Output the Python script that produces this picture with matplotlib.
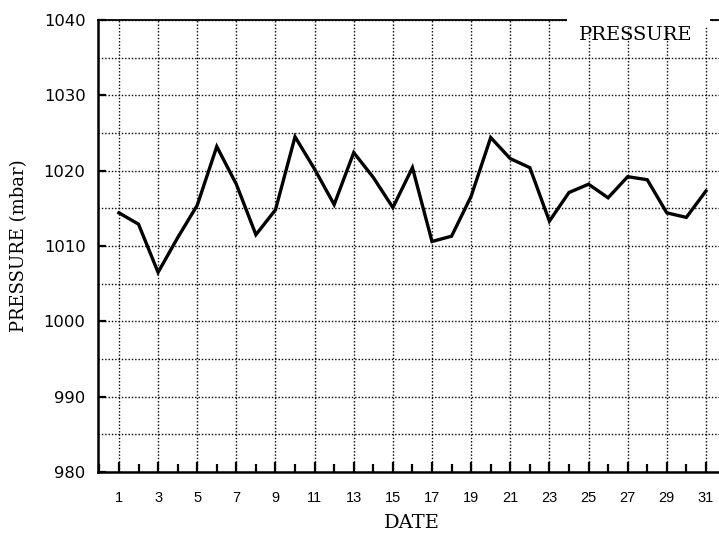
import matplotlib
matplotlib.use("Agg")
import matplotlib.pyplot as plt
from matplotlib.patches import Rectangle
from matplotlib.ticker import MultipleLocator

# daily pressure readings (mbar)
days = list(range(1, 32))
pressure = [1014.4, 1012.9, 1006.5, 1011.1, 1015.4, 1023.2, 1018.2, 1011.5,
            1014.8, 1024.5, 1020.2, 1015.5, 1022.4, 1019.1, 1015.1, 1020.4,
            1010.6, 1011.3, 1016.6, 1024.4, 1021.6, 1020.4, 1013.3, 1017.1,
            1018.2, 1016.4, 1019.2, 1018.8, 1014.4, 1013.8, 1017.3]
x_ticks = list(range(1, 32, 2))
y_ticks = list(range(980, 1041, 10))

serif = "DejaVu Serif"

W, H = 719, 535
fig = plt.figure(figsize=(W / 100, H / 100), dpi=100)
ax = fig.add_axes([98 / W, (H - 472) / H, 627.5 / W, 452 / H])

ax.plot(days, pressure, color="black", lw=2.4, solid_joinstyle="miter", zorder=3)

ax.set_xlim(-0.07, 32)
ax.set_ylim(980, 1040)
ax.set_xticks(x_ticks)
ax.xaxis.set_minor_locator(MultipleLocator(1))
ax.set_yticks(y_ticks)
ax.yaxis.set_minor_locator(MultipleLocator(5))

ax.grid(which="major", axis="x", color="black", lw=1.0, ls=(0, (1, 1.4)))
ax.grid(which="both", axis="y", color="black", lw=1.0, ls=(0, (1, 1.4)))

ax.tick_params(axis="x", which="major", direction="in", length=7, width=1.6,
               pad=14, labelsize=10.5)
ax.tick_params(axis="x", which="minor", direction="in", length=6, width=1.6)
ax.tick_params(axis="y", which="major", direction="in", length=6, width=1.6,
               pad=9, labelsize=11.8)
ax.tick_params(axis="y", which="minor", length=0)
for lab in ax.get_xticklabels():
    lab.set_family("Liberation Sans")
for lab in ax.get_yticklabels():
    lab.set_family("DejaVu Sans")

for side in ["left", "bottom"]:
    ax.spines[side].set_linewidth(1.8)
ax.spines["top"].set_linewidth(1.3)
ax.spines["right"].set_visible(False)

ax.set_xlabel("DATE", family=serif, fontsize=14)
ax.xaxis.set_label_coords(0.5, (472 - 514) / 452)
ax.xaxis.label.set_va("top")
ax.set_ylabel("PRESSURE (mbar)", family=serif, fontsize=13)
ax.yaxis.set_label_coords((28 - 98) / 627.5, 0.5)

# key box sitting on the top border
fig.patches.append(Rectangle((567 / W, (H - 26) / H), (710 - 567) / W, 14 / H,
                             transform=fig.transFigure, facecolor="white",
                             edgecolor="none", zorder=5))
fig.text(636 / W, (H - 35) / H, "PRESSURE", family=serif, fontsize=14,
         ha="center", va="center", zorder=6)

fig.savefig("out.png", dpi=100)
